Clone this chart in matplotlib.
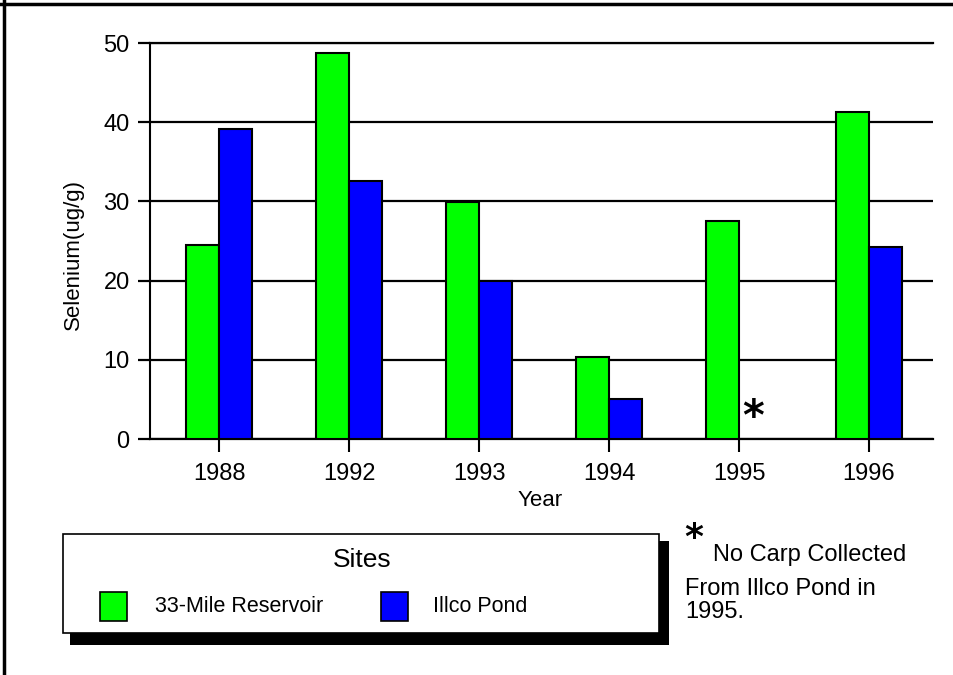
import matplotlib
matplotlib.use("Agg")
import matplotlib.pyplot as plt
from matplotlib.patches import Rectangle
from matplotlib.lines import Line2D
import numpy as np

# data
years = ["1988", "1992", "1993", "1994", "1995", "1996"]
reservoir = [24.5, 48.8, 29.9, 10.3, 27.5, 41.3]
illco = [39.1, 32.6, 19.9, 5.05, np.nan, 24.3]   # 1995: no carp collected
series_names = ["33-Mile Reservoir", "Illco Pond"]
series_colors = ["#00FF00", "#0000FF"]
y_ticks = [0, 10, 20, 30, 40, 50]
missing_year = "1995"

plt.rcParams["font.family"] = ["Liberation Sans", "DejaVu Sans"]

W, H = 954, 675
fig = plt.figure(figsize=(W / 100, H / 100), dpi=100)

def fx(px):
    return px / W

def fy(py):
    return 1 - py / H

ax = fig.add_axes([fx(150), fy(439), fx(933) - fx(150), fy(43) - fy(439)])

x = np.arange(len(years))
bw = 0.254
for vals, col, off in zip([reservoir, illco], series_colors, [-bw / 2, bw / 2]):
    ax.bar(x + off, vals, width=bw, color=col, edgecolor="black", linewidth=1.5, zorder=3)

# asterisk where the Illco bar is missing
i = years.index(missing_year)
ax.text(i + bw / 2 - 0.02, 2.6, "*", fontsize=30, fontweight="bold", family="DejaVu Sans",
        ha="center", va="center", color="black", zorder=4)

ax.set_xlim(-0.531, 5.492)
ax.set_ylim(0, 50)
ax.set_yticks(y_ticks)
ax.set_xticks(x)
ax.set_xticklabels(years)
ax.yaxis.grid(True, color="black", linewidth=1.6, zorder=0)
ax.set_axisbelow(True)
for s in ["top", "right", "bottom"]:
    ax.spines[s].set_visible(False)
ax.spines["left"].set_linewidth(1.5)
ax.spines["left"].set_zorder(1)
ax.tick_params(axis="y", length=8.6, width=1.6, pad=6, labelsize=17, colors="black")
ax.tick_params(axis="x", length=9.5, width=1.5, pad=8, labelsize=17, colors="black")
ax.axhline(0, color="black", linewidth=1.6, zorder=2, clip_on=False)
ax.axhline(50, color="black", linewidth=1.6, zorder=2, clip_on=False)

fig.text(fx(73), fy(255), "Selenium(ug/g)", rotation=90, ha="center", va="center", fontsize=16)
fig.text(fx(540), fy(501), "Year", ha="center", va="center", fontsize=16)

# legend box with hard shadow
fig.patches.append(Rectangle((fx(70), fy(645)), fx(669) - fx(70), fy(541) - fy(645),
                             transform=fig.transFigure, facecolor="black", edgecolor="none"))
fig.patches.append(Rectangle((fx(63), fy(633)), fx(659) - fx(63), fy(534) - fy(633),
                             transform=fig.transFigure, facecolor="white", edgecolor="black",
                             linewidth=1.2))
fig.text(fx(362), fy(560), "Sites", ha="center", va="center", fontsize=19)
sw_x = [100, 381]
lab_x = [155, 433]
for name, col, sx, lx in zip(series_names, series_colors, sw_x, lab_x):
    fig.patches.append(Rectangle((fx(sx), fy(621)), fx(27), 29 / H, transform=fig.transFigure,
                                 facecolor=col, edgecolor="black", linewidth=1.2))
    fig.text(fx(lx), fy(606), name, ha="left", va="center", fontsize=15.5)

# footnote
fig.text(fx(694), fy(538), "*", ha="center", va="center", fontsize=26, fontweight="bold",
         family="DejaVu Sans")
fig.text(fx(713), fy(561), "No Carp Collected", ha="left", va="baseline", fontsize=17)
fig.text(fx(685), fy(595), "From Illco Pond in", ha="left", va="baseline", fontsize=17)
fig.text(fx(685), fy(618), "1995.", ha="left", va="baseline", fontsize=17)

# frame lines at top and left of the image
fig.lines.append(Line2D([0, 1], [fy(4), fy(4)], transform=fig.transFigure, color="black", linewidth=2.5))
fig.lines.append(Line2D([fx(4), fx(4)], [0, 1], transform=fig.transFigure, color="black", linewidth=2.5))

plt.savefig("out.png", dpi=100)
